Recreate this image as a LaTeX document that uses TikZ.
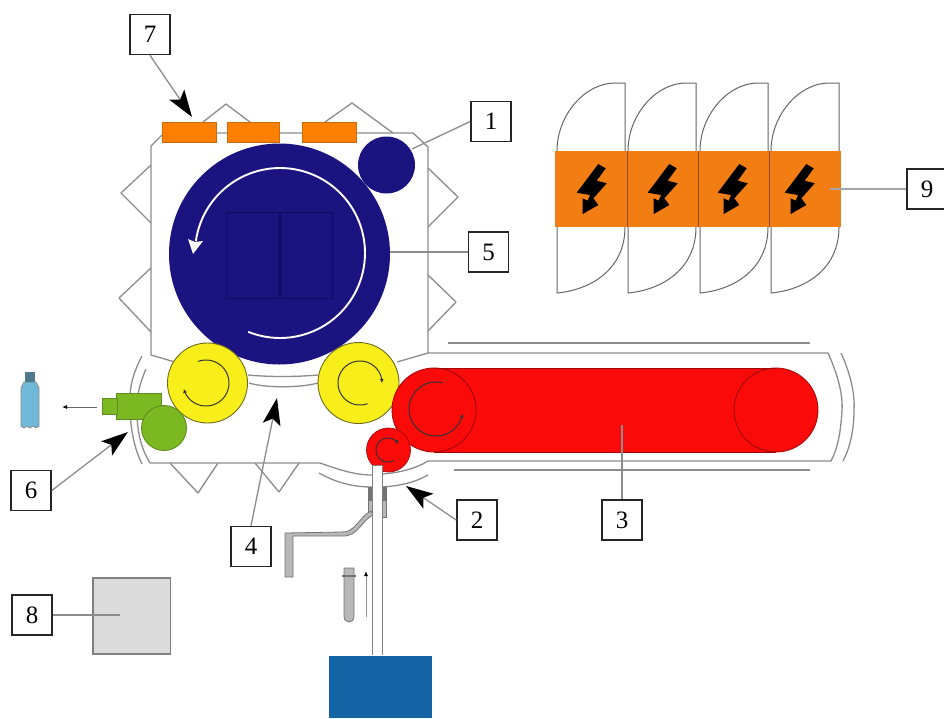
\documentclass[tikz,border=0pt]{standalone}
\usepackage{fontspec}
\setmainfont{Liberation Serif}
\usetikzlibrary{arrows.meta}
\definecolor{lineg}{HTML}{8C8C8C}
\definecolor{navyc}{HTML}{1B1480}
\definecolor{navyd}{HTML}{120C60}
\definecolor{orangec}{HTML}{FF8000}
\definecolor{orangeb}{HTML}{F27D12}
\definecolor{yellowc}{HTML}{F8EE1A}
\definecolor{yellowd}{HTML}{6E6A20}
\definecolor{redc}{HTML}{FB0A0A}
\definecolor{redd}{HTML}{A00808}
\definecolor{greenc}{HTML}{7BB821}
\definecolor{greend}{HTML}{5E8C20}
\definecolor{steelc}{HTML}{1464A5}
\definecolor{bottlec}{HTML}{6FB8D8}
\tikzset{
  housing/.style={draw=lineg,line width=1.3pt,line join=round},
  labelbox/.style={draw=black!85,line width=1.6pt,fill=white,minimum size=40pt,inner sep=0pt,font=\fontsize{25}{25}\selectfont},
  leader/.style={draw=lineg,line width=1.3pt},
  bigarrow/.style={draw=lineg,line width=1.3pt,-{Stealth[length=27pt,width=18pt,inset=6pt,color=black,fill=black]}},
  rollarc/.style={draw=black!80,line width=1pt,-{Latex[length=4pt,width=4pt]}},
  beltline/.style={draw=lineg,line width=1.6pt},
  greypart/.style={fill=black!28,draw=black!55,line width=.8pt},
  darkpart/.style={fill=black!55,draw=black!55,line width=.6pt},
  topheater/.style={fill=orangec,draw=black!20!orangec!80!brown,line width=.8pt},
  lampshell/.style={draw=black!60,line width=1pt}
}
\begin{document}
\begin{tikzpicture}[x=1pt,y=-1pt]
\useasboundingbox (0,0) rectangle (944,718);
\fill[white] (0,0) rectangle (944,718);

% housing outline
\draw[housing] (175,362) -- (151,355) -- (151,146) -- (162,135);
\draw[housing] (162,133) -- (413,133) -- (428,147) -- (428,353) -- (397,362);
\draw[housing] (428,353) -- (828,353) .. controls (838,375) and (843,395) .. (842,410) .. controls (841,430) and (838,448) .. (831,461) -- (428,461);
\draw[housing] (841,353) .. controls (851,375) and (855,395) .. (854,410) .. controls (854,430) and (850,448) .. (843,461);
\draw[beltline] (448,343) -- (810,343);
\draw[beltline] (454,470) -- (810,470);
% spikes
\draw[housing] (151,165) -- (121,193) -- (151,223);
\draw[housing] (151,268) -- (119,298) -- (151,332);
\draw[housing] (428,168) -- (458,197) -- (428,227);
\draw[housing] (428,275) -- (456,302) -- (428,331);
\draw[housing] (203,122) -- (226,104) -- (250,122);
\draw[housing] (325,122) -- (352,103) -- (393,133);
\draw[housing] (170,463) -- (198,493) -- (218,463);
\draw[housing] (255,463) -- (279,492) -- (299,463);
% lower housing and curved guides
\draw[housing] (150,463) -- (320,463) .. controls (340,470) and (355,475) .. (372,475);
\draw[housing] (382,474) .. controls (398,473) and (415,469) .. (428,461);
\draw[housing] (319,473) .. controls (335,482) and (352,487) .. (372,487);
\draw[housing] (382,487) .. controls (400,486) and (416,482) .. (428,475);
\draw[housing] (248,375) .. controls (270,377) and (295,377) .. (318,375);
\draw[housing] (249,383) .. controls (265,388) and (300,388) .. (318,383);
% left guides
\draw[housing] (142,356) .. controls (132,375) and (129,390) .. (130,405) .. controls (130,430) and (135,450) .. (142,464);
\draw[housing] (146,369) .. controls (139,385) and (136,400) .. (137,412) .. controls (137,435) and (143,452) .. (150,463);

% top heaters
\node[topheater,minimum width=54pt,minimum height=20pt,inner sep=0pt] (h1) at (189,132) {};
\node[topheater,minimum width=52pt,minimum height=20pt,inner sep=0pt] (h2) at (253,132) {};
\node[topheater,minimum width=54pt,minimum height=20pt,inner sep=0pt] (h3) at (329,132) {};

% blowing wheel
\fill[navyc] (279.5,254) circle[radius=110.5pt];
\fill[navyc] (386.5,165) circle[radius=28.5pt];
\draw[navyd,line width=1pt] (226,212) rectangle (332,298);
\draw[navyd,line width=1.2pt] (280,212) -- (280,298);
\draw[white,line width=1.9pt] plot[domain=112:-172,samples=90] ({280+85*cos(\x)},{253+85*sin(\x)});
\fill[white] (193,254) -- (188,239) -- (195,242) -- (203,241) -- cycle;

% yellow transfer wheels
\fill[yellowc,draw=yellowd,line width=.9pt] (207.5,383) circle[radius=40pt];
\fill[yellowc,draw=yellowd,line width=.9pt] (358.5,383) circle[radius=40.5pt];
\draw[rollarc] plot[domain=-110:165,samples=50] ({206+23*cos(\x)},{383+23*sin(\x)});
\draw[rollarc] plot[domain=70:360,samples=50] ({360+22*cos(\x)},{383+22*sin(\x)});

% green output
\fill[greenc,draw=greend,line width=.6pt] (116,393) rectangle (161,419);
\fill[greenc,draw=greend,line width=.6pt] (102,398) rectangle (117,414);
\fill[greenc,draw=greend,line width=.9pt] (164,428) circle[radius=22.5pt];
\coordinate (outA) at (97,407);
\coordinate (outB) at (62,407);
\draw[draw=black!60,line width=.9pt,-{Latex[length=5pt,width=4pt,color=black]}] (outA) -- (outB);
% bottle
\fill[bottlec,draw=black!45,line width=.8pt] (24,382) -- (36,382) -- (39,388) -- (39,426) -- (36,428) -- (33,426) -- (30,428) -- (27,426) -- (24,428) -- (21,426) -- (21,388) -- cycle;
\fill[black!35!bottlec!90!gray] (25,372) rectangle (35,382);

% red belt
\fill[redc] (434,410) circle[radius=42pt];
\fill[redc] (776,410) circle[radius=42pt];
\fill[redc] (434,368) rectangle (776,452);
\draw[redd,line width=.8pt] plot[domain=90:270,samples=50] ({434+42*cos(\x)},{410+42*sin(\x)});
\draw[redd,line width=.8pt] plot[domain=-90:90,samples=50] ({776+42*cos(\x)},{410+42*sin(\x)});
\draw[redd,line width=.8pt] (434,368) -- (776,368);
\draw[redd,line width=.8pt] (434,452) -- (776,452);
\draw[redd,line width=.9pt] plot[domain=-90:90,samples=50] ({434+42*cos(\x)},{410+42*sin(\x)});
\draw[redd,line width=.9pt] plot[domain=90:270,samples=50] ({776+42*cos(\x)},{410+42*sin(\x)});
\draw[rollarc] plot[domain=-75:-350,samples=50] ({436+27*cos(\x)},{409+27*sin(\x)});
% small red wheel
\fill[redc,draw=redd,line width=.7pt] (388.5,450) circle[radius=22pt];
\draw[rollarc] plot[domain=60:330,samples=40] ({388+12*cos(\x)},{450+12*sin(\x)});

% preform feed
\fill[darkpart] (368,487) rectangle (373,500);
\fill[greypart] (368,500) rectangle (373,514);
\fill[darkpart] (381,487) rectangle (386,500);
\fill[greypart] (381,500) rectangle (386,517);
\fill[greypart] (371,511) .. controls (360,516) and (355,533) .. (342,532) -- (285,533) -- (285,577) -- (293,577) -- (293,536) -- (342,536) .. controls (358,537) and (362,520) .. (373,515) -- cycle;
\draw[draw=black!50,fill=white,line width=1pt] (372,655) -- (372,465) -- (382,465) -- (382,655);
\fill[steelc] (329,656) rectangle (432,718);
% preform
\fill[greypart] (344,568) -- (354,568) -- (354,616) .. controls (354,624) and (344,624) .. (344,616) -- cycle;
\draw[black!55,line width=1.4pt] (342,576) -- (356,576);
\coordinate (feedA) at (366,617);
\coordinate (feedB) at (366,571);
\draw[draw=lineg,line width=1pt,-{Latex[length=5pt,width=4pt,color=black]}] (feedA) -- (feedB);

% lamps
\foreach \dx in {0,71,143,214}{
  \begin{scope}[shift={(\dx,0)}]
    \draw[lampshell] (557,151) .. controls (557,115) and (585,83) .. (615,83) -- (625,83) -- (625,151);
    \draw[lampshell] (557,227) -- (557,293) .. controls (590,290) and (625,270) .. (625,227);
  \end{scope}
}
\fill[orangeb] (555,151) rectangle (841,227);
\foreach \x in {627,698,769}{\draw[black!40!orangeb,line width=1pt] (\x,151) -- (\x,227);}
\foreach \dx in {0,71,141,208}{
  \begin{scope}[shift={(\dx,0)}]
  \fill[black] (598.3,164) -- (605.7,168.3) -- (596.7,180.7) -- (606.7,183.3) -- (593.3,198.3) -- (598.3,205) -- (582.7,214) -- (582.7,198.3) -- (587.7,200.7) -- (590,195) -- (576.7,192.7) -- cycle;
  \end{scope}
}

% grey box
\fill[black!14,draw=black!50,line width=1.1pt] (93,578) rectangle (170.5,654);

% labels
\node[labelbox] (n7) at (150,34.5) {7};
\node[labelbox] (n1) at (491,121.5) {1};
\node[labelbox] (n5) at (488.5,252) {5};
\node[labelbox] (n9) at (927,189) {9};
\node[labelbox] (n6) at (31,490.5) {6};
\node[labelbox] (n4) at (251,546.5) {4};
\node[labelbox] (n2) at (477,520) {2};
\node[labelbox] (n3) at (622,520) {3};
\node[labelbox] (n8) at (32,615) {8};

\coordinate (t7) at (192,117);
\coordinate (t1) at (412,149);
\coordinate (t5) at (390,252);
\coordinate (t9) at (830,189);
\coordinate (t6) at (128,432);
\coordinate (t4) at (277,398);
\coordinate (t2) at (406,486);
\coordinate (t3) at (622,425);
\coordinate (t8) at (120,615);

\draw[bigarrow] (n7.south) -- (t7);
\draw[bigarrow] (n6.east) -- (t6);
\draw[bigarrow] (n4.north) -- (t4);
\draw[bigarrow] (n2.west) -- (t2);
\draw[leader] (n1.west) -- (t1);
\draw[leader] (n5.west) -- (t5);
\draw[leader,draw=black!35] (n9.west) -- (t9);
\draw[leader] (n3.north) -- (t3);
\draw[leader] (n8.east) -- (t8);
\end{tikzpicture}
\end{document}
